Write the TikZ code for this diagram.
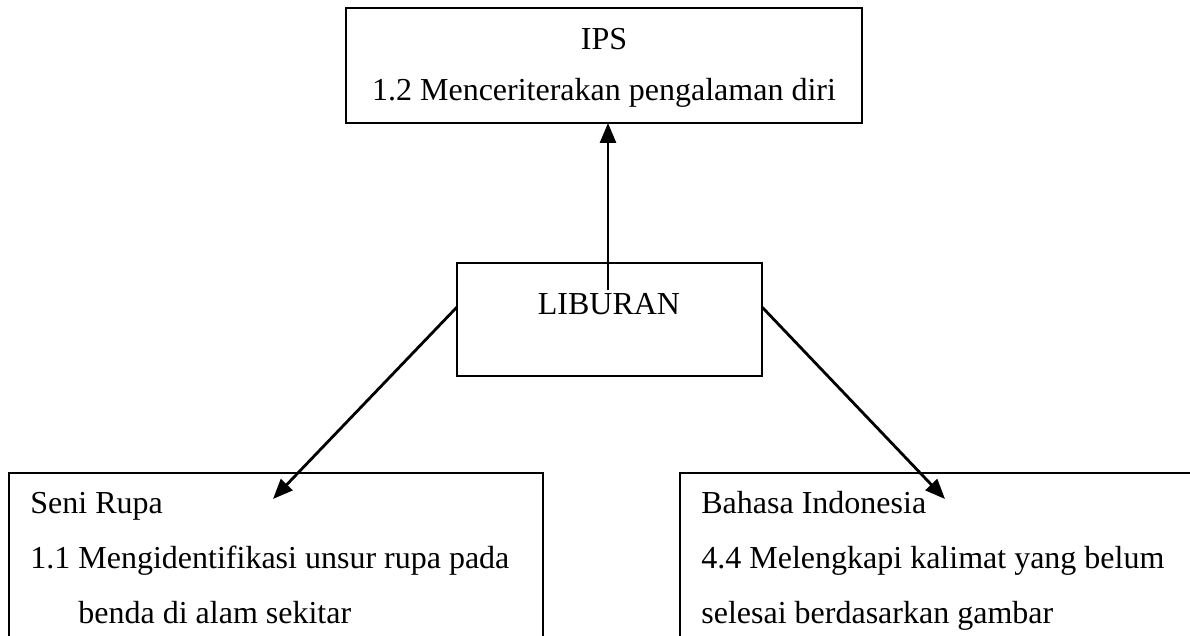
\documentclass[tikz,border=0pt]{standalone}
\usepackage{fontspec}
\setmainfont{Liberation Serif}
\usetikzlibrary{arrows.meta,calc}
\begin{document}
\begin{tikzpicture}[x=0.5pt,y=-0.5pt,
  box/.style={draw,line width=1pt,rectangle,inner sep=0pt,outer sep=0pt,anchor=north west},
  lbl/.style={font=\fontsize{16}{19}\selectfont,inner sep=0pt},
  conn/.style={line width=1.4pt,-{Triangle[length=10pt,width=8pt]}}]
\useasboundingbox (0,0) rectangle (1190,636);
\clip (0,0) rectangle (1190,636);
\fill[white] (0,0) rectangle (1190,636);
% boxes
\node[box,minimum width=258pt,minimum height=57.5pt] (ips) at (346,8) {};
\node[box,minimum width=152.5pt,minimum height=56.5pt] (lib) at (457,263) {};
\node[box,minimum width=267pt,minimum height=150pt] (sr) at (9,473) {};
\node[box,minimum width=280pt,minimum height=150pt] (bi) at (680,473) {};
% texts
\node[lbl,anchor=base] (ipsT) at (604,50) {IPS};
\node[lbl,anchor=base] (ipsC) at (604,101) {1.2 Menceriterakan pengalaman diri};
\node[lbl,anchor=base] (libT) at (609,315) {LIBURAN};
\node[lbl,anchor=base west] (srT) at (30,513) {Seni Rupa};
\node[lbl,anchor=base west] (sr1) at (30,568) {1.1 Mengidentifikasi unsur rupa pada};
\node[lbl,anchor=base west] (sr2) at (78,623) {benda di alam sekitar};
\node[lbl,anchor=base west] (biT) at (701,513) {Bahasa Indonesia};
\node[lbl,anchor=base west] (bi1) at (701,568) {4.4 Melengkapi kalimat yang belum};
\node[lbl,anchor=base west] (bi2) at (701,623) {selesai berdasarkan gambar};
% connectors
\coordinate (tipL) at (273,499);
\coordinate (tipR) at (945,499);
\coordinate (vS) at (608,290);
\draw[conn] ([yshift=6.25pt]lib.west) -- (tipL);
\draw[conn] ([yshift=6.25pt]lib.east) -- (tipR);
\draw[conn] (vS) -- (vS |- ips.south);
\end{tikzpicture}
\end{document}
